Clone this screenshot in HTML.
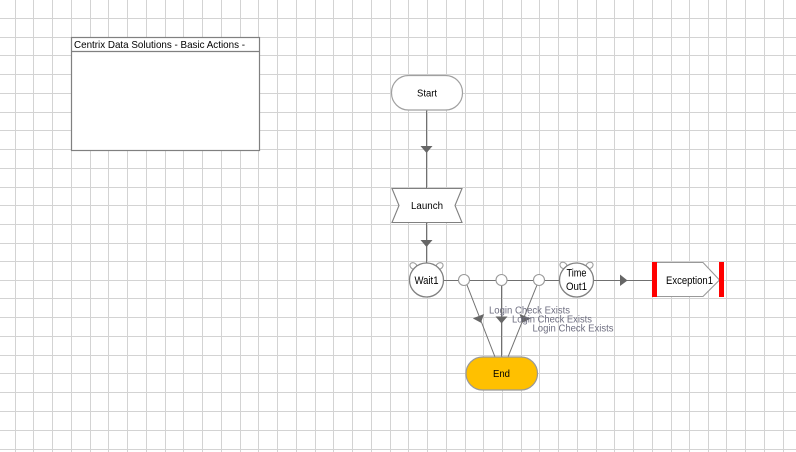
<!DOCTYPE html>
<html>
<head>
<meta charset="utf-8">
<style>
html,body{margin:0;padding:0;background:#fff;width:796px;height:452px;overflow:hidden}
svg{display:block}
text{font-family:"Liberation Sans",sans-serif;fill:#000}
</style>
</head>
<body>
<svg width="796" height="452" viewBox="0 0 796 452" xmlns="http://www.w3.org/2000/svg">
<g fill="#d3d3d3" shape-rendering="crispEdges">
<rect x="15" y="0" width="1" height="452"/><rect x="33" y="0" width="1" height="452"/><rect x="52" y="0" width="1" height="452"/><rect x="71" y="0" width="1" height="452"/><rect x="90" y="0" width="1" height="452"/><rect x="108" y="0" width="1" height="452"/><rect x="127" y="0" width="1" height="452"/><rect x="146" y="0" width="1" height="452"/><rect x="165" y="0" width="1" height="452"/><rect x="183" y="0" width="1" height="452"/><rect x="202" y="0" width="1" height="452"/><rect x="221" y="0" width="1" height="452"/><rect x="240" y="0" width="1" height="452"/><rect x="258" y="0" width="1" height="452"/><rect x="277" y="0" width="1" height="452"/><rect x="296" y="0" width="1" height="452"/><rect x="315" y="0" width="1" height="452"/><rect x="333" y="0" width="1" height="452"/><rect x="352" y="0" width="1" height="452"/><rect x="371" y="0" width="1" height="452"/><rect x="390" y="0" width="1" height="452"/><rect x="408" y="0" width="1" height="452"/><rect x="427" y="0" width="1" height="452"/><rect x="446" y="0" width="1" height="452"/><rect x="465" y="0" width="1" height="452"/><rect x="483" y="0" width="1" height="452"/><rect x="502" y="0" width="1" height="452"/><rect x="521" y="0" width="1" height="452"/><rect x="539" y="0" width="1" height="452"/><rect x="558" y="0" width="1" height="452"/><rect x="577" y="0" width="1" height="452"/><rect x="596" y="0" width="1" height="452"/><rect x="614" y="0" width="1" height="452"/><rect x="633" y="0" width="1" height="452"/><rect x="652" y="0" width="1" height="452"/><rect x="671" y="0" width="1" height="452"/><rect x="689" y="0" width="1" height="452"/><rect x="708" y="0" width="1" height="452"/><rect x="726" y="0" width="1" height="452"/><rect x="745" y="0" width="1" height="452"/><rect x="764" y="0" width="1" height="452"/><rect x="783" y="0" width="1" height="452"/>
<rect x="0" y="18" width="796" height="1"/><rect x="0" y="37" width="796" height="1"/><rect x="0" y="55" width="796" height="1"/><rect x="0" y="74" width="796" height="1"/><rect x="0" y="93" width="796" height="1"/><rect x="0" y="112" width="796" height="1"/><rect x="0" y="130" width="796" height="1"/><rect x="0" y="149" width="796" height="1"/><rect x="0" y="168" width="796" height="1"/><rect x="0" y="187" width="796" height="1"/><rect x="0" y="205" width="796" height="1"/><rect x="0" y="224" width="796" height="1"/><rect x="0" y="243" width="796" height="1"/><rect x="0" y="261" width="796" height="1"/><rect x="0" y="280" width="796" height="1"/><rect x="0" y="298" width="796" height="1"/><rect x="0" y="317" width="796" height="1"/><rect x="0" y="336" width="796" height="1"/><rect x="0" y="355" width="796" height="1"/><rect x="0" y="373" width="796" height="1"/><rect x="0" y="392" width="796" height="1"/><rect x="0" y="411" width="796" height="1"/><rect x="0" y="430" width="796" height="1"/><rect x="0" y="449" width="796" height="1"/>
</g>

<!-- Title box -->
<rect x="71.5" y="37.5" width="188" height="113" fill="#fff" stroke="#808080" stroke-width="1.2"/>
<line x1="71.5" y1="51.5" x2="259.5" y2="51.5" stroke="#808080" stroke-width="1.2"/>
<text x="74" y="48" font-size="10.5" textLength="171" lengthAdjust="spacingAndGlyphs">Centrix Data Solutions - Basic Actions -</text>

<!-- Connectors -->
<g stroke="#707070" stroke-width="1" fill="none">
<line x1="426.5" y1="110" x2="426.5" y2="188"/>
<line x1="426.5" y1="222" x2="426.5" y2="263"/>
<line x1="443" y1="280.5" x2="559" y2="280.5"/>
<line x1="594" y1="280.5" x2="652" y2="280.5"/>
<line x1="467" y1="285" x2="495" y2="357"/>
<line x1="501.5" y1="285" x2="501.5" y2="357"/>
<line x1="537" y1="285" x2="508" y2="357"/>
</g>
<g fill="#666">
<polygon points="420.5,146 432.5,146 426.5,153"/>
<polygon points="420.5,240 432.5,240 426.5,247"/>
<polygon points="620,274.5 620,286 627.5,280.5"/>
<polygon points="473.5,316 485.5,316 479.5,323" transform="rotate(-21 479.5 319)"/>
<polygon points="495.5,316.5 507.5,316.5 501.5,323.5"/>
<polygon points="518,316 530,316 524,323" transform="rotate(22 524 319)"/>
</g>

<!-- Start -->
<rect x="391.5" y="75.5" width="71" height="34.5" rx="17" ry="17" fill="#fff" stroke="#a0a0a0" stroke-width="1.2"/>
<text x="427" y="96.5" font-size="10" text-anchor="middle" textLength="20" lengthAdjust="spacingAndGlyphs">Start</text>

<!-- Launch -->
<polygon points="392,188.5 462,188.5 455,205.5 462,222.5 392,222.5 399,205.5" fill="#fff" stroke="#808080" stroke-width="1.1"/>
<text x="427" y="209" font-size="10" text-anchor="middle" textLength="32" lengthAdjust="spacingAndGlyphs">Launch</text>

<!-- Wait1 -->
<g fill="#fff" stroke="#a0a0a0" stroke-width="1.1">
<ellipse cx="413.5" cy="266" rx="3.8" ry="3" transform="rotate(35 413.5 266)"/>
<ellipse cx="439.5" cy="266" rx="3.8" ry="3" transform="rotate(-35 439.5 266)"/>
</g>
<circle cx="426.5" cy="280" r="17" fill="#fff" stroke="#808080" stroke-width="1.3"/>
<text x="426.5" y="284" font-size="11" text-anchor="middle" textLength="24" lengthAdjust="spacingAndGlyphs">Wait1</text>

<!-- Junctions -->
<g fill="#fff" stroke="#999" stroke-width="1.1">
<circle cx="464" cy="280" r="5.5"/>
<circle cx="501.5" cy="280" r="5.5"/>
<circle cx="539" cy="280" r="5.5"/>
</g>

<!-- Time Out1 -->
<g fill="#fff" stroke="#a0a0a0" stroke-width="1.1">
<ellipse cx="563.5" cy="265.5" rx="3.8" ry="3" transform="rotate(35 563.5 265.5)"/>
<ellipse cx="589.5" cy="265.5" rx="3.8" ry="3" transform="rotate(-35 589.5 265.5)"/>
</g>
<circle cx="576.5" cy="280" r="17" fill="#fff" stroke="#808080" stroke-width="1.3"/>
<text x="576.5" y="276.5" font-size="11" text-anchor="middle" textLength="20" lengthAdjust="spacingAndGlyphs">Time</text>
<text x="576.5" y="290" font-size="11" text-anchor="middle" textLength="21" lengthAdjust="spacingAndGlyphs">Out1</text>

<!-- Exception1 -->
<polygon points="652.5,262.5 703,262.5 719.5,280 703,296.5 652.5,296.5" fill="#fff" stroke="#999" stroke-width="1.1"/>
<rect x="652" y="262" width="5" height="35" fill="#ff0000"/>
<rect x="719" y="262" width="5" height="35" fill="#ff0000"/>
<text x="689.5" y="284" font-size="11" text-anchor="middle" textLength="47" lengthAdjust="spacingAndGlyphs">Exception1</text>

<!-- End -->
<rect x="466" y="357" width="71.5" height="33" rx="16.5" ry="16.5" fill="#ffc000" stroke="#999" stroke-width="1.2"/>
<text x="501.5" y="377" font-size="10" text-anchor="middle" textLength="17" lengthAdjust="spacingAndGlyphs">End</text>

<!-- Labels -->
<g font-size="10">
<text x="489" y="313.5" style="fill:#6e6e80" textLength="81" lengthAdjust="spacingAndGlyphs">Login Check Exists</text>
<text x="512" y="322.5" style="fill:#6e6e80" textLength="80" lengthAdjust="spacingAndGlyphs">Login Check Exists</text>
<text x="532.5" y="331.5" style="fill:#6e6e80" textLength="81" lengthAdjust="spacingAndGlyphs">Login Check Exists</text>
</g>
</svg>
</body>
</html>
